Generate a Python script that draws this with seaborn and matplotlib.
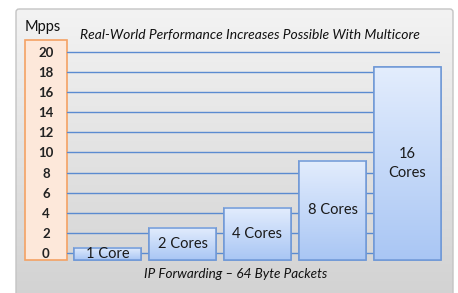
import numpy as np
import pandas as pd
import matplotlib
matplotlib.use('Agg')
import matplotlib.pyplot as plt
from matplotlib.patches import Rectangle, FancyBboxPatch
from matplotlib.colors import LinearSegmentedColormap
import seaborn as sns

# ── Data ──────────────────────────────────────────────────────────────
cores = ["1 Core", "2 Cores", "4 Cores", "8 Cores", "16\nCores"]
mpps = [0.5, 2.5, 4.5, 9.2, 18.5]
yticks = [0, 2, 4, 6, 8, 10, 12, 14, 16, 18, 20]
BASE = -0.7   # bars start slightly below the 0 line

df = pd.DataFrame({"cores": cores,
                   "height": [v - BASE for v in mpps]})

# ── Style ─────────────────────────────────────────────────────────────
sns.set_style("white")
plt.rcParams['font.family'] = ['Lato', 'DejaVu Sans']

W, H = 458, 293
fig = plt.figure(figsize=(W / 100, H / 100), dpi=100)
fig.patch.set_facecolor('white')

def fx(px):
    return px / W

def fy(py):
    return 1 - py / H

# background panel (grey gradient)
bg = fig.add_axes([0, 0, 1, 1])
bg.set_xlim(0, W)
bg.set_ylim(H, 0)
bg.axis('off')
grey = LinearSegmentedColormap.from_list('g', ['#f3f3f3', '#d2d2d2'])
panel = FancyBboxPatch((16, 9), 437, 290, boxstyle='round,pad=0,rounding_size=3',
                       facecolor='none', edgecolor='#c4c4c4', lw=1)
bg.add_patch(panel)
img = bg.imshow(np.linspace(0, 1, 256).reshape(-1, 1), extent=[16, 453, 299, 9],
                cmap=grey, aspect='auto', zorder=0)
img.set_clip_path(panel)

# orange axis box
bg.add_patch(Rectangle((25, 40), 42, 220, facecolor='#fde8da',
                       edgecolor='#f4a264', lw=1.2, zorder=2))
bg.text(43, 27, "Mpps", ha='center', va='center', fontsize=10.5,
        color='#111111', zorder=3)
bg.text(250, 35, "Real-World Performance Increases Possible With Multicore",
        ha='center', va='center', fontsize=10, style='italic',
        color='#111111', zorder=3)
bg.text(236, 274, "IP Forwarding \u2013 64 Byte Packets",
        ha='center', va='center', fontsize=9.7, style='italic',
        color='#111111', zorder=3)

# ── Main axes ─────────────────────────────────────────────────────────
px_per_unit = (253 - 52) / 20.0
y_bot = BASE
y_top = BASE + 220 / px_per_unit
ax = fig.add_axes([fx(67), fy(260), fx(440) - fx(67), 220 / H])
ax.patch.set_alpha(0)

sns.barplot(data=df, x="cores", y="height", bottom=BASE, width=67 / 75,
            color='#c8d9f8', edgecolor='#6f98d6', linewidth=1.1,
            ax=ax, zorder=3)

ax.set_xlim((67 - 107.5) / 75, (440 - 107.5) / 75)
ax.set_ylim(y_bot, y_top)
ax.set_yticks(yticks)
ax.set_yticklabels([str(t) for t in yticks], fontsize=9.5, fontweight='bold',
                   color='#222222')
for lab in ax.get_yticklabels():
    lab.set_horizontalalignment('center')
ax.tick_params(axis='y', length=0, pad=21 * 0.72)
ax.tick_params(axis='x', length=0, labelbottom=False)
ax.set_xlabel('')
ax.set_ylabel('')
ax.grid(axis='y', color='#5b8bd0', lw=1.0, zorder=0)
ax.set_axisbelow(True)
for s in ax.spines.values():
    s.set_visible(False)

# gradient fill inside each bar
blue = LinearSegmentedColormap.from_list('b', ['#e3edfd', '#a9c6f4'])
grad = np.linspace(0, 1, 256).reshape(-1, 1)
for bar, label in zip(ax.patches, cores):
    x, y = bar.get_x(), bar.get_y()
    w, h = bar.get_width(), bar.get_height()
    bar.set_clip_on(False)
    im = ax.imshow(grad, extent=[x, x + w, y, y + h], origin='upper',
                   cmap=blue, aspect='auto', zorder=3.5)
    im.set_clip_on(False)
    im.set_clip_path(bar)
    edge = Rectangle((x, y), w, h, facecolor='none', edgecolor='#6f98d6',
                     lw=1.1, zorder=4, clip_on=False)
    ax.add_patch(edge)
    ax.text(x + w / 2, y + h / 2, label, ha='center', va='center',
            fontsize=10.5, color='#1a1a1a', zorder=5, linespacing=1.5)

ax.set_xlim((67 - 107.5) / 75, (440 - 107.5) / 75)
ax.set_ylim(y_bot, y_top)

fig.savefig('out.png', dpi=100)
